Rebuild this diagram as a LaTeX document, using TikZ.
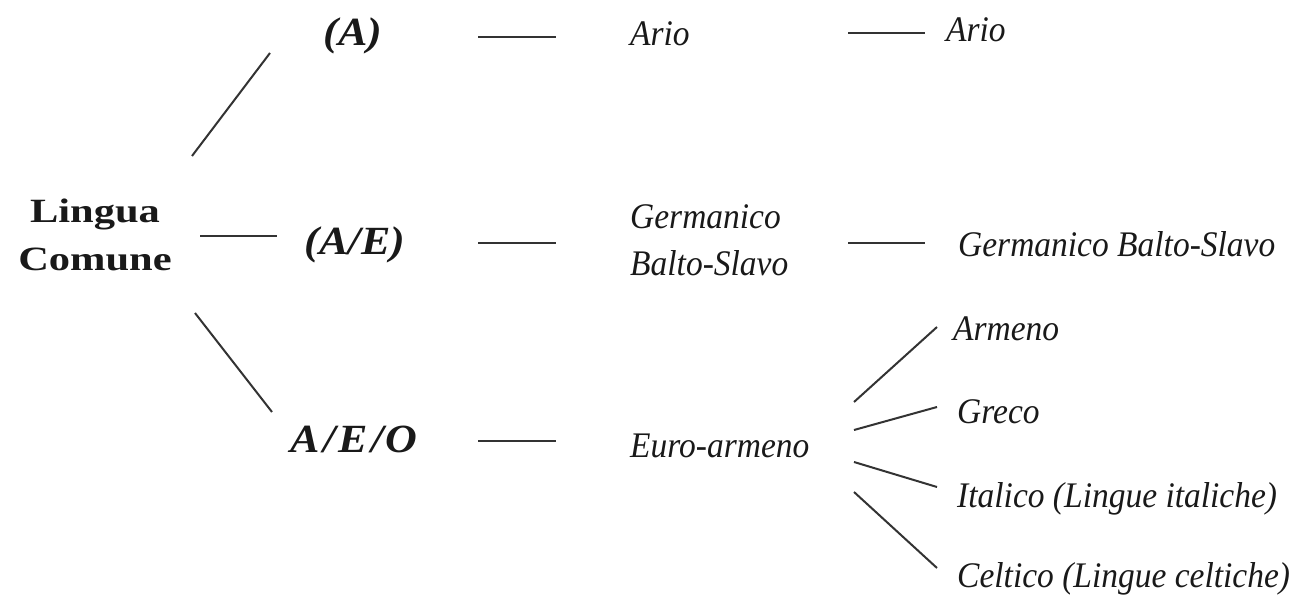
\documentclass[tikz,border=0pt]{standalone}
\usepackage{fontspec}
\setmainfont{Liberation Serif}
\newfontfamily\rootfont[FakeStretch=1.25]{Liberation Serif}
\newfontfamily\boldit[FakeStretch=1.1]{Liberation Serif}
\newfontfamily\langfont[FakeStretch=0.93]{Liberation Serif}
\begin{document}
\begin{tikzpicture}[x=1pt,y=-1pt,
  conn/.style={draw=black!80,line width=2pt},
  rootlbl/.style={inner sep=0pt,align=center,text=black!90,font={\rootfont\bfseries\fontsize{34}{48}\selectfont}},
  protolbl/.style={inner sep=0pt,text=black!90,font={\boldit\bfseries\itshape\fontsize{40}{48}\selectfont}},
  langlbl/.style={inner sep=0pt,align=left,text=black!90,font={\langfont\itshape\fontsize{36}{47}\selectfont}},
]
\useasboundingbox (0,0) rectangle (1306,599);
% nodes
\node[rootlbl] (root) at (95,235) {Lingua\\Comune};
\node[protolbl,anchor=base] (pa) at (353,46) {(A)};
\node[protolbl,anchor=base] (pae) at (355,254) {(A/E)};
\node[protolbl,anchor=base] (paeo) at (354,452) {A\kern4pt/\kern2ptE\kern4pt/\kern2ptO};
\node[langlbl,anchor=base west] (ario1) at (630,46) {Ario};
\node[langlbl,anchor=west] (gbs1) at (630,240) {Germanico\\Balto-Slavo};
\node[langlbl,anchor=base west] (euro) at (630,457) {Euro-armeno};
\node[langlbl,anchor=base west] (ario2) at (946,42) {Ario};
\node[langlbl,anchor=base west] (gbs2) at (958,256) {Germanico Balto-Slavo};
\node[langlbl,anchor=base west] (arm) at (953,340) {Armeno};
\node[langlbl,anchor=base west] (gre) at (957,423) {Greco};
\node[langlbl,anchor=base west] (ita) at (957,507) {Italico (Lingue italiche)};
\node[langlbl,anchor=base west] (cel) at (957,587) {Celtico (Lingue celtiche)};
% connector end points
\coordinate (r1a) at (192,156); \coordinate (r1b) at (270,53);
\coordinate (r2a) at (200,236); \coordinate (r2b) at (277,236);
\coordinate (r3a) at (195,313); \coordinate (r3b) at (272,412);
\coordinate (p1a) at (478,37);  \coordinate (p1b) at (556,37);
\coordinate (p2a) at (478,243); \coordinate (p2b) at (556,243);
\coordinate (p3a) at (478,441); \coordinate (p3b) at (556,441);
\coordinate (q1a) at (848,33);  \coordinate (q1b) at (925,33);
\coordinate (q2a) at (848,243); \coordinate (q2b) at (925,243);
\coordinate (f1a) at (854,402); \coordinate (f1b) at (937,327);
\coordinate (f2a) at (854,430); \coordinate (f2b) at (937,407);
\coordinate (f3a) at (854,462); \coordinate (f3b) at (937,487);
\coordinate (f4a) at (854,492); \coordinate (f4b) at (937,568);
% connectors
\draw[conn] (r1a) -- (r1b);
\draw[conn] (r2a) -- (r2b);
\draw[conn] (r3a) -- (r3b);
\draw[conn] (p1a) -- (p1b);
\draw[conn] (p2a) -- (p2b);
\draw[conn] (p3a) -- (p3b);
\draw[conn] (q1a) -- (q1b);
\draw[conn] (q2a) -- (q2b);
\draw[conn] (f1a) -- (f1b);
\draw[conn] (f2a) -- (f2b);
\draw[conn] (f3a) -- (f3b);
\draw[conn] (f4a) -- (f4b);
\end{tikzpicture}
\end{document}
